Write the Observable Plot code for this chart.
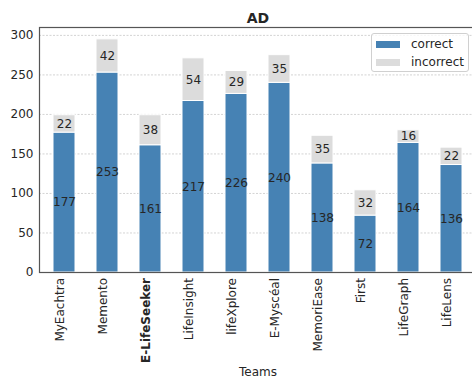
<!DOCTYPE html>
<html>
<head>
<meta charset="utf-8">
<script src="https://cdn.jsdelivr.net/npm/d3@7"></script>
<script src="https://cdn.jsdelivr.net/npm/@observablehq/plot@0.6"></script>
<style>
  html, body { margin: 0; padding: 0; background: #fff; overflow: hidden; }
  #wrap { position: relative; width: 472px; height: 379px; overflow: hidden; }
  #chart svg { max-width: none !important; display: block; }
  #legend {
    position: absolute; left: 371px; top: 33px; width: 96px; height: 37px;
    border: 1px solid #d0d0d0; border-radius: 3px; background: rgba(255,255,255,0.8);
    font-family: "DejaVu Sans", sans-serif; font-size: 12px; color: #262626;
  }
  .item { position: absolute; left: 4px; display: flex; align-items: center; }
  .sw { width: 24px; height: 7px; margin-right: 11px; }
</style>
</head>
<body>
<div id="wrap"><div id="chart"></div>
<div id="legend">
  <div class="item" style="top:3px"><div class="sw" style="background:#4682b4"></div><span>correct</span></div>
  <div class="item" style="top:21px"><div class="sw" style="background:#dcdcdc"></div><span>incorrect</span></div>
</div>
</div>
<script>
const teams = ["MyEachtra","Memento","E-LifeSeeker","LifeInsight","lifeXplore","E-Myscéal","MemoriEase","First","LifeGraph","LifeLens"];
const correct = [177, 253, 161, 217, 226, 240, 138, 72, 164, 136];
const incorrect = [22, 42, 38, 54, 29, 35, 35, 32, 16, 22];
const types = ["correct", "incorrect"];
const colors = ["#4682b4", "#dcdcdc"];
const yTicks = [0, 50, 100, 150, 200, 250, 300];

const data = [];
teams.forEach((t, i) => {
  data.push({team: t, type: "correct", value: correct[i]});
  data.push({team: t, type: "incorrect", value: incorrect[i]});
});

const font = "DejaVu Sans, sans-serif";
const chart = Plot.plot({
  width: 476,
  height: 379,
  marginLeft: 39,
  marginRight: 0,
  marginTop: 27,
  marginBottom: 107,
  style: {fontFamily: font, fontSize: "12px", color: "#262626", background: "white", maxWidth: "none"},
  x: {domain: teams, paddingInner: 0.5, paddingOuter: 0.25, label: null},
  y: {domain: [0, 310], label: null},
  color: {domain: types, range: colors},
  marks: [
    Plot.gridY(yTicks, {stroke: "#c8c8c8", strokeOpacity: 1, strokeDasharray: "2,1.5", strokeWidth: 0.8}),
    Plot.barY(data, {x: "team", y: "value", fill: "type", stroke: "white", strokeWidth: 1}),
    Plot.text(data, Plot.stackY({x: "team", y: "value", text: "value", fill: "#262626", fontSize: 12})),
    Plot.frame({stroke: "#555", strokeWidth: 1.2}),
    Plot.axisY(yTicks, {tickSize: 0, tickPadding: 6, label: null, fontSize: 12}),
    Plot.axisX({tickSize: 0, tickPadding: 5.5, tickRotate: -90, label: null, fontSize: 12, dx: -4}),
    Plot.text(["AD"], {frameAnchor: "top", lineAnchor: "middle", dy: -9, fontWeight: "bold", fontSize: 14, fill: "#262626"}),
    Plot.text(["Teams"], {frameAnchor: "bottom", lineAnchor: "middle", dy: 99.5, fontSize: 12, fill: "#262626"})
  ]
});
chart.querySelectorAll("text").forEach(t => {
  if (t.textContent === "E-LifeSeeker") t.setAttribute("font-weight", "bold");
});
document.getElementById("chart").appendChild(chart);
</script>
</body>
</html>
